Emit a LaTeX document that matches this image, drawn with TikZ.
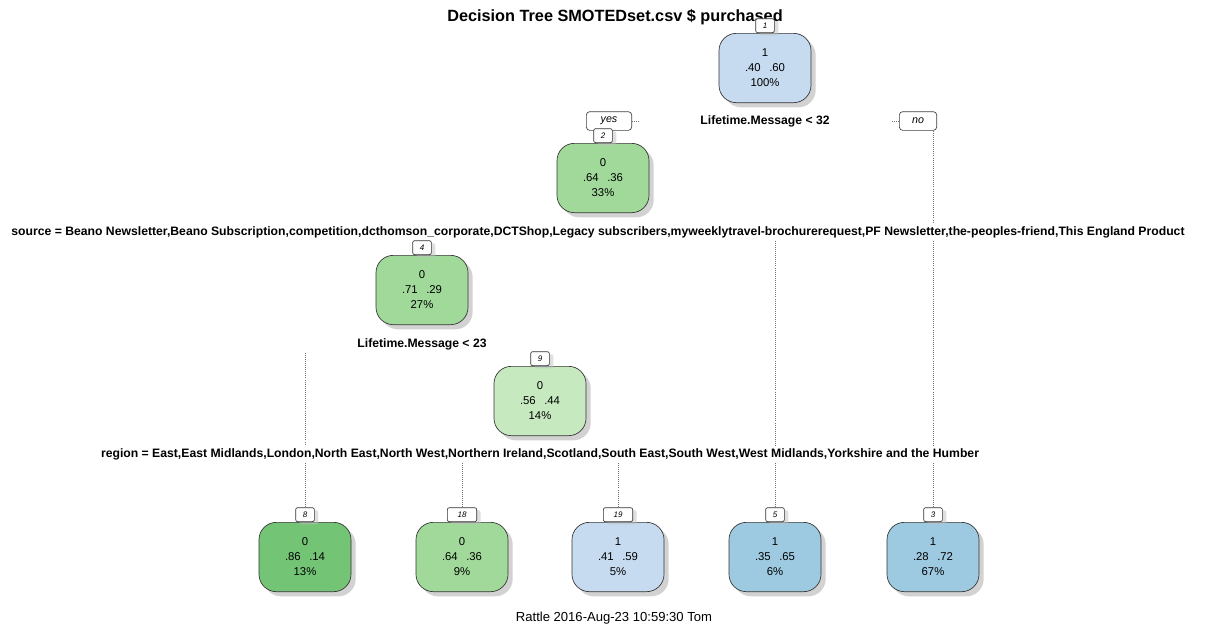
\documentclass[tikz,border=0pt]{standalone}
\usepackage{fontspec}
\setmainfont{Liberation Sans}
\usetikzlibrary{positioning,shadows}
\definecolor{bluelight}{HTML}{C6DBEF}
\definecolor{bluemid}{HTML}{9ECAE1}
\definecolor{greenlight}{HTML}{C7E9C0}
\definecolor{greenmid}{HTML}{A1D99B}
\definecolor{greendark}{HTML}{74C476}
\tikzset{
  treenode/.style={draw=black!80, line width=0.5pt, rounded corners=13pt,
    minimum width=69pt, minimum height=52pt, align=center,
    font=\fontsize{8.5}{11.2}\selectfont,
    drop shadow={shadow xshift=3.5pt, shadow yshift=-3.5pt, fill=black!35}},
  numlab/.style={draw=black!80, line width=0.5pt, rounded corners=1.5pt, fill=white,
    font=\fontsize{6}{6}\selectfont\itshape, minimum width=14pt, minimum height=10.5pt,
    inner sep=0pt,
    drop shadow={shadow xshift=3pt, shadow yshift=-2pt, fill=black!25}},
  splitlab/.style={inner sep=2pt, font=\fontsize{9.15}{10}\selectfont\bfseries},
  yesno/.style={draw=black!75, line width=0.5pt, rounded corners=2.5pt, fill=white,
    minimum height=14pt, inner sep=0pt, font=\fontsize{8}{8}\selectfont\itshape},
  branch/.style={black!55, line width=0.55pt, densely dotted},
}
\newcommand{\probs}[2]{#1\hspace{0.75em}#2}

\begin{document}
\begin{tikzpicture}[x=0.75pt, y=-0.75pt]
  \useasboundingbox (0,0) rectangle (1205,628);
  % title and footer
  \node[font=\fontsize{12.2}{14}\selectfont\bfseries] (title) at (615,17) {Decision Tree SMOTEDset.csv \$ purchased};
  \node[font=\fontsize{9.8}{11}\selectfont] (footer) at (614,618) {Rattle 2016-Aug-23 10:59:30 Tom};
  % inner nodes
  \node[treenode, fill=bluelight] (n1) at (765,68) {1\\\probs{.40}{.60}\\100\%};
  \node[numlab, above=0pt of n1] (n1lab) {1};
  \node[splitlab] (s1) at (765,121) {Lifetime.Message < 32};
  \node[yesno, minimum width=34pt] (yes) at (609,121) {yes};
  \node[yesno, minimum width=28pt] (no) at (918,121) {no};
  \coordinate[right=6pt of yes] (yesend);
  \coordinate[left=6pt of no] (noend);
  \node[treenode, fill=greenmid] (n2) at (603,178) {0\\\probs{.64}{.36}\\33\%};
  \node[numlab, above=0pt of n2] (n2lab) {2};
  \node[splitlab] (s2) at (598,232) {source = Beano Newsletter,Beano Subscription,competition,dcthomson\_corporate,DCTShop,Legacy subscribers,myweeklytravel-brochurerequest,PF Newsletter,the-peoples-friend,This England Product};
  \node[treenode, fill=greenmid] (n4) at (422,290) {0\\\probs{.71}{.29}\\27\%};
  \node[numlab, above=0pt of n4] (n4lab) {4};
  \node[splitlab] (s4) at (422,344) {Lifetime.Message < 23};
  \node[treenode, fill=greenlight] (n9) at (540,401) {0\\\probs{.56}{.44}\\14\%};
  \node[numlab, above=0pt of n9] (n9lab) {9};
  \node[splitlab] (s9) at (540,454) {region = East,East Midlands,London,North East,North West,Northern Ireland,Scotland,South East,South West,West Midlands,Yorkshire and the Humber};
  % leaves
  \node[treenode, fill=greendark] (n8) at (305,557) {0\\\probs{.86}{.14}\\13\%};
  \node[numlab, above=0pt of n8] (n8lab) {8};
  \node[treenode, fill=greenmid] (n18) at (462,557) {0\\\probs{.64}{.36}\\9\%};
  \node[numlab, minimum width=22pt, above=0pt of n18] (n18lab) {18};
  \node[treenode, fill=bluelight] (n19) at (618,557) {1\\\probs{.41}{.59}\\5\%};
  \node[numlab, minimum width=22pt, above=0pt of n19] (n19lab) {19};
  \node[treenode, fill=bluemid] (n5) at (775,557) {1\\\probs{.35}{.65}\\6\%};
  \node[numlab, above=0pt of n5] (n5lab) {5};
  \node[treenode, fill=bluemid] (n3) at (933,557) {1\\\probs{.28}{.72}\\67\%};
  \node[numlab, above=0pt of n3] (n3lab) {3};
  % branches, broken where they pass a split label
  \draw[branch] (yes) -- (yesend);
  \draw[branch] (no) -- (noend);
  \draw[branch] (no.south -| n3lab) -- (s2.north -| n3lab);
  \draw[branch] (s2.south -| n3lab) -- (s9.north -| n3lab);
  \draw[branch] (s9.south -| n3lab) -- (n3lab.north);
  \draw[branch] (s2.south -| n5lab) -- (s9.north -| n5lab);
  \draw[branch] (s9.south -| n5lab) -- (n5lab.north);
  \draw[branch] (s4.south -| n8lab) -- (s9.north -| n8lab);
  \draw[branch] (s9.south -| n8lab) -- (n8lab.north);
  \draw[branch] (s9.south -| n18lab) -- (n18lab.north);
  \draw[branch] (s9.south -| n19lab) -- (n19lab.north);
\end{tikzpicture}
\end{document}
